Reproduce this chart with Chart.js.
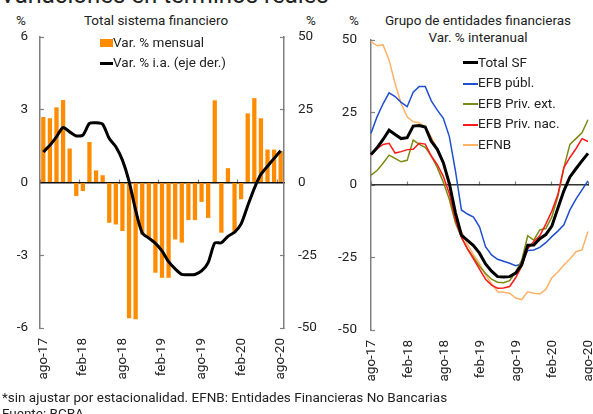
<!DOCTYPE html>
<html>
<head>
<meta charset="utf-8">
<script src="https://cdn.jsdelivr.net/npm/chart.js@4.4.1/dist/chart.umd.min.js"></script>
<style>
  body { margin: 0; width: 593px; height: 414px; overflow: hidden; background: #fff; position: relative;
         font-family: Roboto, sans-serif; color: #222; }
  .t { position: absolute; white-space: nowrap; font-size: 13.5px; line-height: 16px; }
  .c { transform: translateX(-50%); }
  canvas { position: absolute; top: 0; }
  .leg { position: absolute; font-size: 13.5px; line-height: 16px; white-space: nowrap; }
  .sw { display: inline-block; vertical-align: middle; }
</style>
</head>
<body>
<div class="t" style="left:0;top:-17px;font-size:24px;line-height:24px">Variaciones en términos reales</div>
<div class="t c" style="left:156px;top:12px">Total sistema financiero</div>
<div class="t c" style="left:21px;top:12px">%</div>
<div class="t c" style="left:311px;top:12px">%</div>
<div class="t c" style="left:354px;top:12px">%</div>
<div class="t c" style="left:478px;top:12px">Grupo de entidades financieras</div>
<div class="t c" style="left:478px;top:29px">Var. % interanual</div>

<canvas id="left" width="330" height="414" style="left:0;width:330px;height:414px"></canvas>
<canvas id="right" width="263" height="414" style="left:330px;width:263px;height:414px"></canvas>

<div id="legLeft"></div>
<div id="legRight"></div>

<div class="t" style="left:2px;top:389px">*sin ajustar por estacionalidad. EFNB: Entidades Financieras No Bancarias</div>
<div class="t" style="left:2px;top:405px">Fuente: BCRA</div>

<script>
const months = [
  'ago-17', 'sep-17', 'oct-17', 'nov-17', 'dic-17', 'ene-18', 'feb-18', 'mar-18', 'abr-18', 'may-18', 'jun-18', 'jul-18',
  'ago-18', 'sep-18', 'oct-18', 'nov-18', 'dic-18', 'ene-19', 'feb-19', 'mar-19', 'abr-19', 'may-19', 'jun-19', 'jul-19',
  'ago-19', 'sep-19', 'oct-19', 'nov-19', 'dic-19', 'ene-20', 'feb-20', 'mar-20', 'abr-20', 'may-20', 'jun-20', 'jul-20',
  'ago-20'
];

// Total sistema financiero
const varMensual = [2.7, 2.65, 3.1, 3.4, 1.4, -0.56, -0.35, 1.67, 0.5, 0.3, -1.66, -1.73, -2.0, -5.6, -5.64, -2.14,
  -2.28, -3.72, -3.93, -3.93, -2.35, -2.48, -1.55, -1.55, -0.8, -1.46, 3.39, -2.07, 0.59, -2.07, -0.69, 2.85, 3.48,
  2.65, 1.36, 1.36, 1.3];
const totalSF = [10.5, 12.8, 15.7, 18.9, 17.4, 16.0, 16.3, 20.3, 20.5, 20.0, 15.1, 12.3, 7.7, 0.5, -9.5, -17.3, -19.1,
  -20.9, -23.5, -27.2, -29.7, -31.6, -31.7, -31.6, -30.4, -27.5, -20.8, -20.7, -18.5, -17.1, -14.2, -8, -2, 2.8, 5.6,
  8.3, 10.9];

// Grupo de entidades financieras
const efbPubl = [17.8, 23.5, 28, 31.8, 30.5, 28.5, 27, 32, 34, 34, 29, 25.8, 23, 16.7, 5, -8.6, -10, -11.1, -14.4,
  -21.3, -24.1, -25.6, -26.3, -27, -27.8, -27.2, -22.6, -22.4, -21.5, -19.9, -17.8, -15.9, -13.7, -8.6, -4.9, -1.7, 1.4];
const efbPrivExt = [3.4, 5, 7.5, 10.3, 9.2, 8, 8.5, 15.5, 14, 13, 10, 6, 1, -5, -13, -18, -22, -25, -28, -30.5, -32.5,
  -33.5, -33.7, -33, -30, -26, -17.5, -19, -15.5, -15, -11, -4, 6, 14, 16, 18, 22.5];
const efbPrivNac = [10.3, 12.5, 14, 14.4, 11, 11.5, 12.2, 12.3, 14.4, 14.1, 10, 7, 3, -3, -12, -18, -22, -25.5, -29,
  -32.5, -34.5, -35.6, -35.5, -35, -32, -28, -22, -19.5, -17.5, -13.5, -9, -3.3, 6, 9.5, 12.5, 16, 15];
const efnb = [49.4, 48, 48.3, 43, 35, 28, 23.5, 21.8, 21.5, 20, 16.5, 12.5, 7, -0.5, -12, -16, -20.5, -24, -27, -31,
  -34, -36.8, -37, -37.3, -39, -39.5, -36.8, -37.3, -37.6, -36, -32, -30, -27.6, -25.5, -23, -22.4, -16];

const axisGray = '#808080';
const showTick = i => i % 6 === 0;

Chart.defaults.font.family = 'Roboto';
Chart.defaults.font.size = 13.5;
Chart.defaults.color = '#222';

// axis sitting on the zero line, only small tick marks every 6 months
function zeroAxis(offset, color) {
  return {
    type: 'category',
    position: { y: 0 },
    offset: offset,
    grid: {
      offset: offset, drawOnChartArea: false, tickLength: -4, tickWidth: 1.2,
      tickColor: c => showTick(c.index) ? axisGray : 'rgba(0,0,0,0)'
    },
    border: { display: true, color: color, width: 1.5 },
    ticks: { display: false, autoSkip: false }
  };
}

// bottom axis that only carries the rotated labels
function labelAxis(offset, labelOffset, height) {
  return {
    type: 'category',
    position: 'bottom',
    offset: offset,
    grid: { display: false, drawTicks: false },
    border: { display: false },
    ticks: {
      autoSkip: false, minRotation: 90, maxRotation: 90, padding: 10, labelOffset: labelOffset,
      callback: function (v, i) { return showTick(i) ? this.getLabelForValue(v) : ''; }
    },
    afterFit: s => { s.height = height; s.paddingLeft = 0; s.paddingRight = 0; }
  };
}

function valueAxis(position, min, max, step, padding, width) {
  return {
    position: position, min: min, max: max,
    ticks: { stepSize: step, padding: padding },
    grid: { drawOnChartArea: false, tickLength: -4, tickColor: axisGray, tickWidth: 1.2 },
    border: { color: axisGray, width: 1.5 },
    afterFit: s => { s.width = width; s.paddingTop = 0; s.paddingBottom = 0; }
  };
}

const leftChart = new Chart(document.getElementById('left'), {
  type: 'bar',
  data: {
    labels: months,
    datasets: [
      { type: 'line', label: 'Var. % i.a. (eje der.)', data: totalSF, yAxisID: 'y1', xAxisID: 'x',
        borderColor: '#000', backgroundColor: '#000', borderWidth: 3, pointRadius: 0, tension: 0.25, order: 0 },
      { label: 'Var. % mensual', data: varMensual, yAxisID: 'y', xAxisID: 'x',
        backgroundColor: '#ff8c00', barPercentage: 0.65, categoryPercentage: 1, order: 1 }
    ]
  },
  options: {
    responsive: false,
    animation: false,
    layout: { padding: { top: 37, left: 0, right: 0, bottom: 0 } },
    plugins: { legend: { display: false }, tooltip: { enabled: false } },
    scales: {
      x: zeroAxis(true, '#111'),
      xl: labelAxis(true, 0, 86),
      y: valueAxis('left', -6, 6, 3, 16, 40),
      y1: valueAxis('right', -50, 50, 25, 18, 46)
    }
  }
});

const rightColors = ['#000000', '#1f4fd0', '#7d8a12', '#ff1a1a', '#ffb266'];
const rightWidths = [3, 1.5, 1.5, 1.5, 1.5];
const rightNames = ['Total SF', 'EFB públ.', 'EFB Priv. ext.', 'EFB Priv. nac.', 'EFNB'];
const rightData = [totalSF, efbPubl, efbPrivExt, efbPrivNac, efnb];
const rightOrder = [0, 3, 2, 1, 4];

const rightChart = new Chart(document.getElementById('right'), {
  type: 'line',
  data: {
    labels: months,
    datasets: rightNames.map((n, i) => ({
      label: n, data: rightData[i], borderColor: rightColors[i], backgroundColor: rightColors[i],
      borderWidth: rightWidths[i], pointRadius: 0, tension: 0, order: rightOrder[i], xAxisID: 'x', yAxisID: 'y'
    }))
  },
  options: {
    responsive: false,
    animation: false,
    layout: { padding: { top: 40, left: 0, right: 5, bottom: 0 } },
    plugins: { legend: { display: false }, tooltip: { enabled: false } },
    scales: {
      x: zeroAxis(false, '#333'),
      xl: labelAxis(false, 1, 84),
      y: valueAxis('left', -50, 50, 25, 18, 41)
    }
  }
});

// legends drawn as html over the plot areas
function buildLegend(el, x, y0, step, items) {
  items.forEach((it, k) => {
    const d = document.createElement('div');
    d.className = 'leg';
    d.style.left = x + 'px';
    d.style.top = (y0 + k * step - 8) + 'px';
    const sw = document.createElement('span');
    sw.className = 'sw';
    sw.style.width = it.w + 'px';
    sw.style.height = it.h + 'px';
    sw.style.background = it.color;
    d.appendChild(sw);
    d.appendChild(document.createTextNode(it.text));
    el.appendChild(d);
  });
}

buildLegend(document.getElementById('legLeft'), 100, 41.5, 20.5, [
  { text: 'Var. % mensual', color: '#ff8c00', w: 13, h: 8 },
  { text: 'Var. % i.a. (eje der.)', color: '#000', w: 13, h: 3 }
]);
buildLegend(document.getElementById('legRight'), 463, 61.5, 20.6,
  rightNames.map((n, i) => ({ text: n, color: rightColors[i], w: 15, h: i === 0 ? 3 : 2 })));
</script>
</body>
</html>
